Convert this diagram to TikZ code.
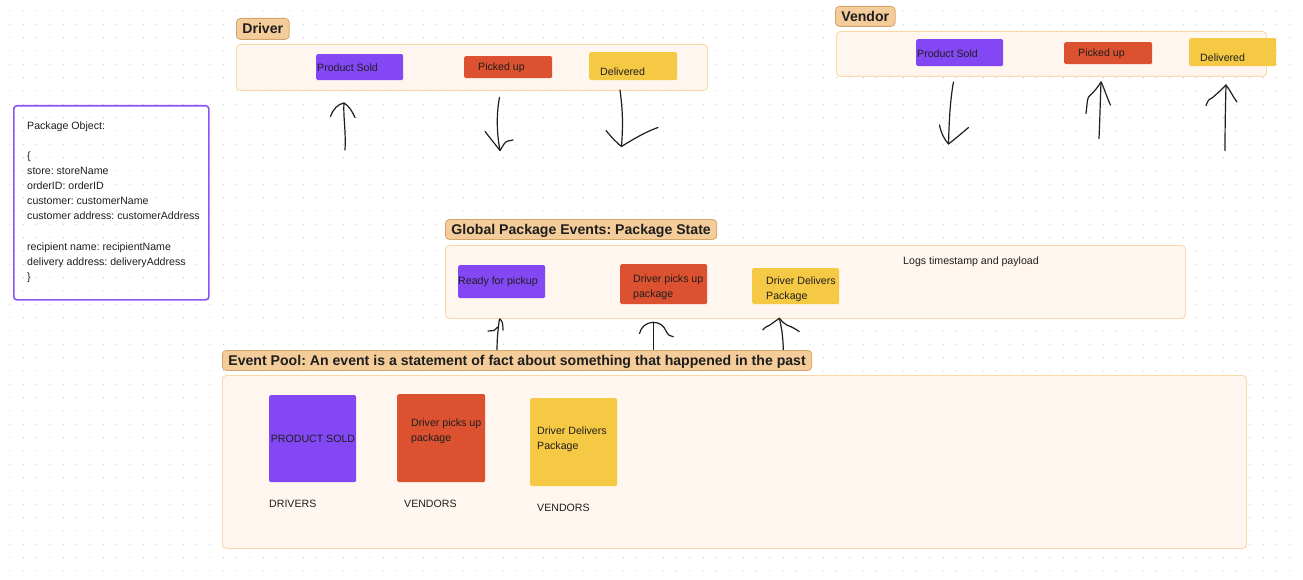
\documentclass[tikz,border=0pt]{standalone}
\usepackage{fontspec}
\setmainfont{Liberation Sans}
\frenchspacing
\definecolor{purp}{HTML}{8447F4}
\definecolor{oran}{HTML}{DC5130}
\definecolor{yell}{HTML}{F6C945}
\definecolor{pfill}{HTML}{FEF6EF}
\definecolor{pline}{HTML}{F8D8A8}
\definecolor{tfill}{HTML}{F4CC9A}
\definecolor{tline}{HTML}{D4A56B}
\definecolor{pkline}{HTML}{8A55F2}
\definecolor{dotc}{HTML}{CFCFCF}
\definecolor{ink}{HTML}{1E1E1E}
\begin{document}
\begin{tikzpicture}[x=1pt,y=-1pt,
  panel/.style={draw=pline, fill=pfill, rounded corners=4pt, line width=0.9pt, anchor=north west, inner sep=0pt},
  tag/.style={draw=tline, fill=tfill, rounded corners=4pt, line width=0.8pt, anchor=north west, inner xsep=6pt, inner ysep=0pt, text height=11pt, text depth=1pt, text=ink, font=\bfseries\fontsize{14.1}{16}\selectfont},
  stk/.style={rounded corners=1.5pt, anchor=north west, inner sep=0pt},
  stx/.style={anchor=west, inner sep=0pt, text=ink, align=left, font=\fontsize{10.6}{15}\selectfont},
  hand/.style={draw=ink, line width=1.2pt, line cap=round, line join=round}
]
\useasboundingbox (0,0) rectangle (1303,580);
\fill[white] (0,0) rectangle (1303,580);
\foreach \r in {0,...,43}
  \draw[dotc, line width=1.3pt, line cap=round, dash pattern=on 0pt off 13.333pt] ({10},{11+\r*13.333}) -- ({1303},{11+\r*13.333});

% ---------- Driver ----------
\node[tag, minimum height=21pt] (drvtag) at (236,18) {Driver};
\node[panel, minimum width=471pt, minimum height=46pt] (drvpanel) at (236,44) {};
\node[stk, fill=purp, minimum width=87pt, minimum height=26pt] (dps) at (316,54) {};
\node[stx] (dpst) at (317,68) {Product Sold};
\node[stk, fill=oran, minimum width=88pt, minimum height=22pt] (dpu) at (464,56) {};
\node[stx] (dput) at (478,67.5) {Picked up};
\node[stk, fill=yell, minimum width=88pt, minimum height=28pt] (ddl) at (589,52) {};
\node[stx] (ddlt) at (600,71.5) {Delivered};

% ---------- Vendor ----------
\node[tag, minimum height=20pt] (vndtag) at (835,6) {Vendor};
\node[panel, minimum width=430pt, minimum height=45pt] (vndpanel) at (836,31) {};
\node[stk, fill=purp, minimum width=87pt, minimum height=27pt] (vps) at (916,39) {};
\node[stx] (vpst) at (917,53.5) {Product Sold};
\node[stk, fill=oran, minimum width=88pt, minimum height=22pt] (vpu) at (1064,42) {};
\node[stx] (vput) at (1078,53.5) {Picked up};
\node[stk, fill=yell, minimum width=87pt, minimum height=28pt] (vdl) at (1189,38) {};
\node[stx] (vdlt) at (1200,57.5) {Delivered};

% ---------- hand drawn arrows (top) ----------
\draw[hand] (345,150) .. controls (346,130) and (343,115) .. (344,103);
\draw[hand] (330.5,116.5) .. controls (333,109) and (338,104) .. (344,103) .. controls (349,106) and (352,111) .. (355,117.5);
\draw[hand] (499.5,97.5) .. controls (496,115) and (497,135) .. (500,150.5);
\draw[hand] (485,131.5) -- (500,150.5) .. controls (503,146) and (505,141) .. (508,141) -- (513,140);
\draw[hand] (620,90) .. controls (622,105) and (623.5,120) .. (621.5,146.5);
\draw[hand] (606,130.5) .. controls (612,138) and (617,143) .. (621.5,146.5) .. controls (632,140) and (645,132) .. (658,127.5);
\draw[hand] (953.5,82) .. controls (950,100) and (949,125) .. (948.5,144);
\draw[hand] (939.5,125) .. controls (941,133) and (944,139) .. (948.5,144) .. controls (955,139) and (962,133) .. (968.5,127.5);
\draw[hand] (1099,138.5) .. controls (1100,115) and (1100.5,95) .. (1101,82);
\draw[hand] (1086,113.5) .. controls (1087,106) and (1087,100) .. (1088.5,97) .. controls (1094,92) and (1098,87) .. (1101,82) .. controls (1105,90) and (1107,98) .. (1110.5,105);
\draw[hand] (1225,150.5) .. controls (1225,125) and (1225.5,105) .. (1226,85);
\draw[hand] (1206,105.5) .. controls (1208,100) and (1210,98) .. (1212,98) .. controls (1218,93) and (1222,89) .. (1226,85) .. controls (1230,90) and (1233,97) .. (1237,102);

% ---------- Package object ----------
\node[draw=pkline, line width=1.6pt, rounded corners=3pt, anchor=north west, minimum width=195pt, minimum height=194pt, inner sep=0pt] (pkg) at (13,105) {};
\node[stx, font=\fontsize{10.6}{15.1}\selectfont] (pkgt) at (27,202) {Package Object:\\ \strut\\ \{\\ store: storeName\\ orderID: orderID\\ customer: customerName\\ customer address: customerAddress\\ \strut\\ recipient name: recipientName\\ delivery address: deliveryAddress\\ \}};

% ---------- Global package events ----------
\node[tag, minimum height=20pt] (gtag) at (445,219) {Global Package Events: Package State};
\node[panel, minimum width=740pt, minimum height=73pt] (gpanel) at (445,245) {};
\node[stk, fill=purp, minimum width=87pt, minimum height=33pt] (grp) at (458,265) {};
\node[stx] (grpt) at (458,282) {Ready for pickup};
\node[stk, fill=oran, minimum width=87pt, minimum height=40pt] (gdp) at (620,264) {};
\node[stx] (gdpt) at (633,287) {Driver picks up\\package};
\node[stk, fill=yell, minimum width=87pt, minimum height=36pt] (gdd) at (752,268) {};
\node[stx] (gddt) at (766,289.5) {Driver Delivers\\Package};
\node[stx] (logs) at (903,261.5) {Logs timestamp and payload};

% ---------- hand drawn arrows (middle) ----------
\draw[hand] (497,350) .. controls (497,340) and (498,328) .. (499.5,319);
\draw[hand] (488,331) -- (494,330.5) -- (497.8,327);
\draw[hand] (499.5,319) .. controls (502,320) and (503,323) .. (503,330);
\draw[hand] (653.3,350) -- (653.3,323);
\draw[hand] (639.5,333.5) .. controls (641,327) and (646,322.5) .. (653.3,322.3) .. controls (660,322.5) and (664,326) .. (666,331) .. controls (668,335) and (670,336.5) .. (673.3,336.7);
\draw[hand] (783.3,350) .. controls (783,335) and (781,325) .. (779.3,318.3);
\draw[hand] (762.7,330) .. controls (765,327) and (768,326) .. (770,325) .. controls (774,322) and (777,320) .. (779.3,318.3) .. controls (782,321) and (784,324) .. (786.7,325) .. controls (792,327) and (796,329) .. (799.3,331.7);

% ---------- Event pool ----------
\node[tag, minimum height=20pt] (etag) at (222,350) {Event Pool: An event is a statement of fact about something that happened in the past};
\node[panel, minimum width=1024pt, minimum height=173pt] (epanel) at (222,375) {};
\node[stk, fill=purp, minimum width=87pt, minimum height=87pt] (eps) at (269,395) {};
\node[stx, anchor=center] (epst) at (313,439) {PRODUCT SOLD};
\node[stk, fill=oran, minimum width=88pt, minimum height=88pt] (edp) at (397,394) {};
\node[stx] (edpt) at (411,431) {Driver picks up\\package};
\node[stk, fill=yell, minimum width=87pt, minimum height=88pt] (edd) at (530,398) {};
\node[stx] (eddt) at (537,439.5) {Driver Delivers\\Package};
\node[stx] (ldrv) at (269,503.5) {DRIVERS};
\node[stx] (lvn1) at (404,503.5) {VENDORS};
\node[stx] (lvn2) at (537,507.5) {VENDORS};
\end{tikzpicture}
\end{document}
